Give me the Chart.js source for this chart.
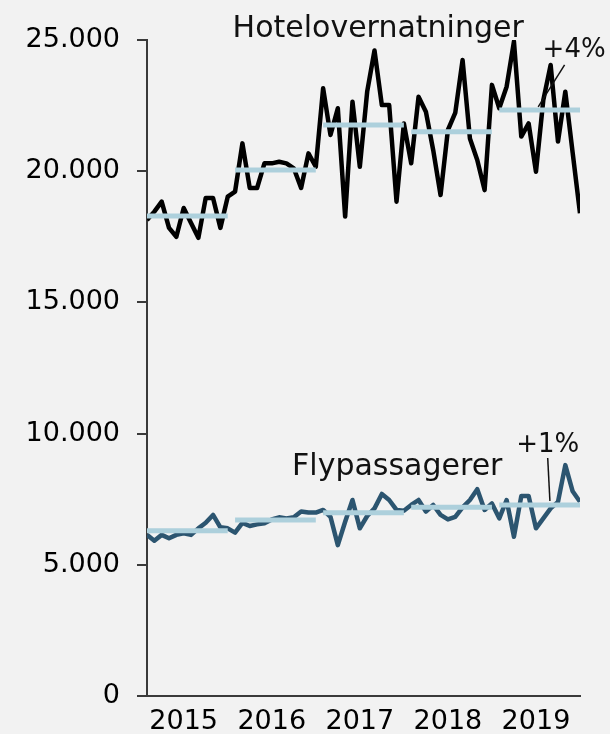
<!DOCTYPE html>
<html>
<head>
<meta charset="utf-8">
<script src="https://cdn.jsdelivr.net/npm/chart.js@4/dist/chart.umd.min.js"></script>
<style>
  html, body { margin: 0; padding: 0; background: #f2f2f2; }
  #wrap { width: 610px; height: 734px; }
</style>
</head>
<body>
<div id="wrap"><canvas id="chart" width="610" height="734"></canvas></div>
<script>
const years = ['2015', '2016', '2017', '2018', '2019']

// monthly values, jan 2015 - dec 2019
const hotel = [18140, 18460, 18840, 17840, 17500, 18600, 18030, 17460, 18980, 18980, 17840, 19030,
  19220, 21060, 19360, 19360, 20300, 20300, 20360, 20300, 20110, 19360, 20680, 20170,
  23160, 21380, 22400, 18270, 22650, 20170, 23030, 24600, 22520, 22520, 18840, 21820,
  20300, 22840, 22270, 20800, 19090, 21570, 22220, 24240, 21250, 20430, 19280, 23290,
  22400, 23220, 24940, 21320, 21820, 19980, 22710, 24050, 21130, 23030, 20700, 18400]

const fly = [6140, 5920, 6140, 6010, 6140, 6200, 6140, 6390, 6600, 6900, 6430, 6390,
  6225, 6600, 6480, 6540, 6580, 6730, 6810, 6770, 6810, 7030, 6990, 6990,
  7090, 6830, 5750, 6640, 7470, 6390, 6860, 7150, 7700, 7470, 7090, 7060,
  7280, 7470, 7030, 7280, 6900, 6730, 6830, 7190, 7470, 7880, 7090, 7340,
  6770, 7470, 6070, 7620, 7620, 6390, 6770, 7150, 7400, 8800, 7800, 7400]

// yearly averages
const hotelAvg = [18290, 20050, 21760, 21500, 22330]
const flyAvg = [6300, 6710, 6980, 7190, 7280]

const FONT = '"DejaVu Sans"'

function monthly(values) {
  return values.map((v, i) => ({x: i, y: v}))
}

function yearLines(avgs) {
  const pts = []
  avgs.forEach((v, k) => {
    pts.push({x: k * 12, y: v}, {x: k * 12 + 11, y: v}, {x: k * 12 + 11.5, y: null})
  })
  return pts
}

// text labels (baseline anchored) and leader lines, in data coordinates
const notes = [
  {text: 'Hotelovernatninger', x: 31.5, y: 25100, size: 30},
  {text: '+4%', x: 58.2, y: 24360, size: 26, line: [53.3, 22450, 56.9, 24050]},
  {text: 'Flypassagerer', x: 34.1, y: 8420, size: 30},
  {text: '+1%', x: 54.6, y: 9300, size: 26, line: [54.6, 9070, 54.9, 7430]}
]

const notesPlugin = {
  id: 'notes',
  afterDatasetsDraw(chart) {
    const {ctx, scales: {x, y}} = chart
    ctx.save()
    ctx.fillStyle = '#111'
    ctx.strokeStyle = '#111'
    ctx.lineWidth = 1.5
    ctx.textAlign = 'center'
    ctx.textBaseline = 'alphabetic'
    notes.forEach(n => {
      ctx.font = n.size + 'px ' + FONT
      ctx.fillText(n.text, x.getPixelForValue(n.x), y.getPixelForValue(n.y))
      if (n.line) {
        ctx.beginPath()
        ctx.moveTo(x.getPixelForValue(n.line[0]), y.getPixelForValue(n.line[1]))
        ctx.lineTo(x.getPixelForValue(n.line[2]), y.getPixelForValue(n.line[3]))
        ctx.stroke()
      }
    })
    ctx.restore()
  }
}

new Chart(document.getElementById('chart'), {
  type: 'line',
  data: {
    datasets: [
      {data: yearLines(hotelAvg), borderColor: '#add0dc', borderWidth: 5, order: 0, spanGaps: false},
      {data: yearLines(flyAvg), borderColor: '#add0dc', borderWidth: 5, order: 0, spanGaps: false},
      {data: monthly(hotel), borderColor: '#000000', borderWidth: 4.5, order: 1},
      {data: monthly(fly), borderColor: '#2c5570', borderWidth: 4.5, order: 1}
    ]
  },
  options: {
    responsive: false,
    animation: false,
    layout: {padding: {top: 40, right: 30, left: 0, bottom: 0}},
    elements: {point: {radius: 0}, line: {tension: 0, borderJoinStyle: 'round'}},
    plugins: {legend: {display: false}, tooltip: {enabled: false}},
    scales: {
      x: {
        type: 'linear',
        min: 0,
        max: 59,
        afterBuildTicks: axis => { axis.ticks = years.map((yr, k) => ({value: k * 12 + 5})) },
        afterFit: axis => { axis.height = 38 },
        grid: {display: false, drawTicks: false},
        border: {display: true, color: '#3a3a3a', width: 2},
        ticks: {
          maxRotation: 0,
          autoSkip: false,
          padding: 10,
          color: '#000',
          font: {family: FONT, size: 27},
          callback: v => years[Math.floor(v / 12)]
        }
      },
      y: {
        min: 0,
        max: 25000,
        afterFit: axis => { axis.width = 147 },
        grid: {drawOnChartArea: false, drawTicks: true, tickLength: 10, color: '#3a3a3a', lineWidth: 2},
        border: {display: true, color: '#3a3a3a', width: 2},
        ticks: {
          stepSize: 5000,
          padding: 17,
          color: '#000',
          font: {family: FONT, size: 27},
          callback: v => v.toString().replace(/\B(?=(\d{3})+(?!\d))/g, '.')
        }
      }
    }
  },
  plugins: [notesPlugin]
})
</script>
</body>
</html>
